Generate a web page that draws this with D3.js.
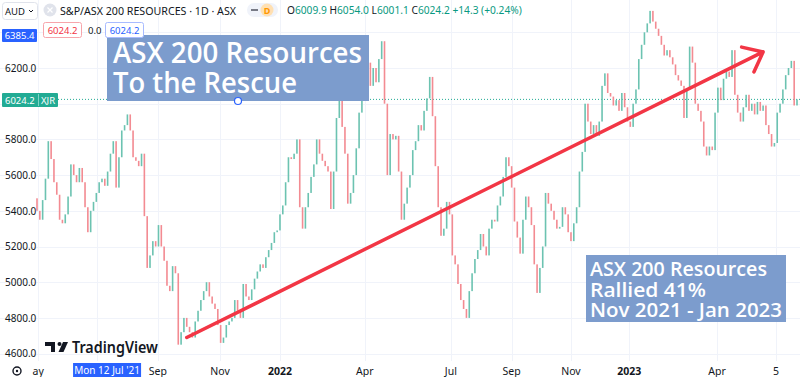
<!DOCTYPE html>
<html>
<head>
<meta charset="utf-8">
<script src="https://cdn.jsdelivr.net/npm/d3@7"></script>
<style>
  body { margin: 0; background: #fff; }
  svg { display: block; font-family: "Noto Sans", sans-serif; }
</style>
</head>
<body>
<div id="chart"></div>
<script>
// closes, one bar every ~2.8px (about two sessions)
var firstOpen = 5470;
var closes = [
  5400, 5350, 5460, 5580, 5790, 5690, 5560, 5490, 5350, 5330,
  5380, 5480, 5660, 5600, 5560, 5640, 5560, 5420, 5280, 5400,
  5450, 5500, 5560, 5580, 5540, 5620, 5720, 5790, 5530, 5700,
  5850, 5880, 5940, 5850, 5700, 5680, 5650, 5720, 5370, 5080,
  5150, 5230, 5200, 5320, 5200, 5120, 4980, 4950, 5090, 5050,
  4650, 4720, 4800, 4750, 4720, 4690, 4780, 4840, 4900, 4950,
  5000, 4920, 4880, 4850, 4760, 4660, 4690, 4760, 4780, 4800,
  4900, 4840, 4800, 4990, 4920, 4900, 4960, 5020, 5060, 5100,
  5080, 5140, 5180, 5220, 5280, 5290, 5380, 5430, 5560, 5700,
  5690, 5720, 5800, 5420, 5300, 5420, 5500, 5590, 5660, 5800,
  5720, 5680, 5650, 5620, 5410, 5620, 5920, 6040, 5870, 5720,
  5440, 5500, 5600, 5750, 5950, 6020, 6150, 6230, 6100, 6200,
  6120, 6250, 6350, 6000, 5600, 5830, 5800, 5820, 5620, 5350,
  5440, 5530, 5600, 5740, 5790, 5880, 5850, 5960, 6030, 6150,
  5930, 5650, 5420, 5260, 5300, 5450, 5380, 5150, 5100, 4990,
  4900, 4850, 4800, 4950, 5050, 5130, 5180, 5270, 5200, 5150,
  5300, 5350, 5340, 5430, 5480, 5590, 5700, 5650, 5530, 5340,
  5250, 5160, 5350, 5480, 5420, 5320, 5100, 4940, 5080, 5200,
  5500, 5440, 5400, 5350, 5300, 5310, 5420, 5380, 5280, 5230,
  5330, 5420, 5620, 5730, 6000, 5900, 5830, 5880, 5820, 5900,
  6100, 6170, 6060, 6040, 5990, 6020, 5960, 6060, 5980, 5900,
  5870, 6000, 6080, 6250, 6330, 6400, 6450, 6520, 6460, 6420,
  6380, 6330, 6270, 6300, 6260, 6220, 6160, 6130, 6100, 5920,
  6080, 6320, 6230, 6000, 5960, 5900, 5760, 5710, 5760, 5740,
  5950, 6090, 6020, 6140, 6180, 6150, 6300, 6050, 5950, 5900,
  5980, 6050, 5960, 6000, 5940, 6010, 5960, 5990, 5880, 5830,
  5760, 5780, 5950, 6000, 6080, 6160, 6200, 6240, 5990, 6024.2
];

var gridPrices = [4600, 4800, 5000, 5200, 5400, 5600, 5800, 6000, 6200, 6400];
// 6000 and 6400 sit under the XJR / crosshair labels, so no text for them
var labelPrices = [4600, 4800, 5000, 5200, 5400, 5600, 5800, 6200];

// time axis: bar index of each month tick
var gridIdx = [0.4, 21.2, 42.8, 64.8, 86, 116, 146.5, 168, 189, 209.6, 240.7, 261.6];
var timeLabels = ["ay", "Sep", "Nov", "2022", "Apr", "Jul", "Sep", "Nov", "2023", "Apr", "5"];
var timeLabelIdx = [0.4, 42.8, 64.8, 86, 116, 146.5, 168, 189, 209.6, 240.7, 261.6];
var boldLabels = ["2022", "2023"];

var lastPrice = 6024.2;
var crosshairPrice = 6385.4;
var crosshairIdx = 24.8;
var crosshairDate = "Mon 12 Jul '21";

// trend line, Nov 2021 low to Jan 2023
var trend = [{ i: 53, p: 4690 }, { i: 257, p: 6290 }];

var width = 800, height = 377, chartBottom = 361;

var svg = d3
  .select("#chart")
  .append("svg")
  .attr("width", width)
  .attr("height", height);

var x = d3.scaleLinear().domain([0, closes.length - 1]).range([37, 797]);
var y = d3.scaleLinear().domain([4600, 6200]).range([353.6, 68]);

// grid
svg
  .append("g")
  .selectAll("line")
  .data(gridPrices)
  .enter()
  .append("line")
  .attr("x1", 0)
  .attr("x2", width)
  .attr("y1", (d) => Math.round(y(d)) + 0.5)
  .attr("y2", (d) => Math.round(y(d)) + 0.5)
  .style("stroke", "#f0f3fa");

svg
  .append("g")
  .selectAll("line")
  .data(gridIdx)
  .enter()
  .append("line")
  .attr("x1", (d) => Math.round(x(d)) + 0.5)
  .attr("x2", (d) => Math.round(x(d)) + 0.5)
  .attr("y1", 0)
  .attr("y2", chartBottom)
  .style("stroke", "#f0f3fa");

// last price dotted line
svg
  .append("line")
  .attr("x1", 58)
  .attr("x2", width)
  .attr("y1", y(lastPrice))
  .attr("y2", y(lastPrice))
  .style("stroke", "#22ab94")
  .style("stroke-dasharray", "1,2");

// candles (open = previous close)
var bars = closes.map((c, i) => ({ i: i, o: i === 0 ? firstOpen : closes[i - 1], c: c }));
svg
  .append("g")
  .selectAll("rect")
  .data(bars)
  .enter()
  .append("rect")
  .attr("x", (d) => x(d.i) - 0.8)
  .attr("width", 1.6)
  .attr("y", (d) => y(Math.max(d.o, d.c)))
  .attr("height", (d) => Math.max(1, Math.abs(y(d.o) - y(d.c))))
  .style("fill", (d) => (d.c >= d.o ? "#6cc3b1" : "#f38b92"));

// price axis (drawn over the plot on the left)
var yAxis = svg
  .append("g")
  .call(d3.axisRight(y).tickValues(labelPrices).tickSize(0).tickPadding(5).tickFormat(d3.format(".1f")));
yAxis.select(".domain").remove();
yAxis.selectAll("text").style("font-size", "10px").style("fill", "#131722").style("font-family", "Noto Sans");

// time axis
svg
  .append("g")
  .selectAll("text")
  .data(timeLabels)
  .enter()
  .append("text")
  .attr("x", (d, i) => x(timeLabelIdx[i]))
  .attr("y", 375)
  .attr("text-anchor", "middle")
  .style("font-size", "10.5px")
  .style("font-weight", (d) => (boldLabels.includes(d) ? "700" : "400"))
  .style("fill", "#131722")
  .text((d) => d);

// crosshair date label
var cx = x(crosshairIdx);
svg.append("rect").attr("x", cx - 34).attr("y", 363).attr("width", 68).attr("height", 14).style("fill", "#2962ff");
svg
  .append("text")
  .attr("x", cx)
  .attr("y", 374)
  .attr("text-anchor", "middle")
  .style("font-size", "10px")
  .style("fill", "#fff")
  .text(crosshairDate);

// gear icon
svg.append("circle").attr("cx", 17).attr("cy", 371).attr("r", 4).style("fill", "none").style("stroke", "#131722").style("stroke-width", 1.4);
svg.append("circle").attr("cx", 17).attr("cy", 371).attr("r", 1.2).style("fill", "#131722");

// trend line with arrow head
var p0 = [x(trend[0].i), y(trend[0].p)],
  p1 = [x(trend[1].i), y(trend[1].p)];
var ang = Math.atan2(p1[1] - p0[1], p1[0] - p0[0]);
var armLen = 22, spread = 0.68;
var a1 = [p1[0] - armLen * Math.cos(ang - spread), p1[1] - armLen * Math.sin(ang - spread)];
var a2 = [p1[0] - armLen * Math.cos(ang + spread), p1[1] - armLen * Math.sin(ang + spread)];
svg
  .append("path")
  .attr("d", d3.line()([p0, p1]) + "M" + a1 + "L" + p1 + "L" + a2)
  .style("fill", "none")
  .style("stroke", "#f23645")
  .style("stroke-width", 3.5)
  .style("stroke-linecap", "round")
  .style("stroke-linejoin", "round");

// annotation boxes
svg.append("rect").attr("x", 107).attr("y", 35).attr("width", 262).attr("height", 66).style("fill", "#7c9ccd");
svg
  .append("text")
  .attr("x", 113)
  .attr("y", 63)
  .attr("textLength", 249)
  .attr("lengthAdjust", "spacingAndGlyphs")
  .style("font-family", "Open Sans")
  .style("font-weight", "600")
  .style("font-size", "29px")
  .style("fill", "#fff")
  .text("ASX 200 Resources");
svg
  .append("text")
  .attr("x", 113)
  .attr("y", 93)
  .attr("textLength", 184)
  .attr("lengthAdjust", "spacingAndGlyphs")
  .style("font-family", "Open Sans")
  .style("font-weight", "600")
  .style("font-size", "29px")
  .style("fill", "#fff")
  .text("To the Rescue");
svg.append("circle").attr("cx", 238).attr("cy", 101).attr("r", 3.5).style("fill", "#fff").style("stroke", "#2962ff").style("stroke-width", 1.2);

svg.append("rect").attr("x", 586).attr("y", 255).attr("width", 200).attr("height", 67).style("fill", "#7c9ccd");
var note = ["ASX 200 Resources", "Rallied 41%", "Nov 2021 - Jan 2023"];
var noteLen = [177, 116, 192];
svg
  .append("g")
  .selectAll("text")
  .data(note)
  .enter()
  .append("text")
  .attr("x", 590)
  .attr("y", (d, i) => 276 + i * 20.5)
  .attr("textLength", (d, i) => noteLen[i])
  .attr("lengthAdjust", "spacingAndGlyphs")
  .style("font-family", "Open Sans")
  .style("font-weight", "600")
  .style("font-size", "20px")
  .style("fill", "#fff")
  .text((d) => d);

// price labels on the left
svg.append("rect").attr("x", 2).attr("y", 29).attr("width", 35).attr("height", 13).attr("rx", 1).style("fill", "#2962ff");
svg.append("text").attr("x", 19.5).attr("y", 39).attr("text-anchor", "middle").style("font-size", "9.5px").style("fill", "#fff").text(crosshairPrice.toFixed(1));

svg.append("rect").attr("x", 2).attr("y", 93).attr("width", 56).attr("height", 14).attr("rx", 1).style("fill", "#22ab94");
svg.append("line").attr("x1", 38.5).attr("x2", 38.5).attr("y1", 94).attr("y2", 106).style("stroke", "#7fd3c4");
svg.append("text").attr("x", 5).attr("y", 103.5).style("font-size", "9.5px").style("fill", "#fff").text(lastPrice.toFixed(1));
svg.append("text").attr("x", 41).attr("y", 103.5).style("font-size", "9.5px").style("fill", "#fff").text("XJR");

// header
svg.append("rect").attr("x", 2.5).attr("y", 2.5).attr("width", 35).attr("height", 17).attr("rx", 3).style("fill", "#fff").style("stroke", "#e0e3eb");
svg.append("text").attr("x", 5).attr("y", 14.5).style("font-size", "9.5px").style("fill", "#131722").text("AUD");
svg.append("path").attr("d", "M29,10L31,12L33,10").style("fill", "none").style("stroke", "#131722").style("stroke-width", 1);

svg.append("circle").attr("cx", 50).attr("cy", 10).attr("r", 6.5).style("fill", "#e0e3eb");
svg.append("path").attr("d", "M47.5,7.5L52.5,12.5M52.5,7.5L47.5,12.5").style("stroke", "#fff").style("stroke-width", 1.2);
svg
  .append("text")
  .attr("x", 60)
  .attr("y", 14.5)
  .attr("textLength", 176)
  .attr("lengthAdjust", "spacingAndGlyphs")
  .style("font-size", "11.5px")
  .style("fill", "#131722")
  .text("S&P/ASX 200 RESOURCES · 1D · ASX");

svg.append("rect").attr("x", 247).attr("y", 3).attr("width", 31).attr("height", 14).attr("rx", 7).style("fill", "#f0f3fa");
svg.append("line").attr("x1", 251).attr("x2", 258).attr("y1", 10).attr("y2", 10).style("stroke", "#787b86").style("stroke-width", 2);
svg.append("circle").attr("cx", 267).attr("cy", 10).attr("r", 6.5).style("fill", "#ffe0b2");
svg.append("text").attr("x", 267).attr("y", 13.5).attr("text-anchor", "middle").style("font-size", "9px").style("font-weight", "700").style("fill", "#ff9800").text("D");

var ohlc = [
  ["O", "6009.9"],
  [" H", "6054.0"],
  [" L", "6001.1"],
  [" C", "6024.2"],
  [" ", "+14.3 (+0.24%)"]
];
var ohlcText = svg.append("text").attr("x", 287).attr("y", 14).style("font-size", "10.2px");
ohlc.forEach(function (d) {
  ohlcText.append("tspan").style("fill", "#131722").text(d[0]);
  ohlcText.append("tspan").style("fill", "#089981").text(d[1]);
});

// second header row: price boxes
svg.append("rect").attr("x", 43.5).attr("y", 22.5).attr("width", 38).attr("height", 15).attr("rx", 2).style("fill", "#fff").style("stroke", "#f7a5ab");
svg.append("text").attr("x", 62.5).attr("y", 33.5).attr("text-anchor", "middle").style("font-size", "9.5px").style("fill", "#f23645").text(lastPrice.toFixed(1));
svg.append("text").attr("x", 88).attr("y", 33.5).style("font-size", "9.5px").style("fill", "#131722").text("0.0");
svg.append("rect").attr("x", 105.5).attr("y", 22.5).attr("width", 38).attr("height", 15).attr("rx", 2).style("fill", "#fff").style("stroke", "#a8bbff");
svg.append("text").attr("x", 124.5).attr("y", 33.5).attr("text-anchor", "middle").style("font-size", "9.5px").style("fill", "#2962ff").text(lastPrice.toFixed(1));

// TradingView watermark
var logo = svg.append("g").style("fill", "#131722");
logo.append("rect").attr("x", 45).attr("y", 342).attr("width", 10).attr("height", 4);
logo.append("rect").attr("x", 51).attr("y", 342).attr("width", 4).attr("height", 10);
logo.append("circle").attr("cx", 59.5).attr("cy", 344).attr("r", 2);
logo.append("path").attr("d", "M63,342L68,342L63.5,352L58.5,352Z");
svg
  .append("text")
  .attr("x", 72)
  .attr("y", 353)
  .attr("textLength", 86)
  .attr("lengthAdjust", "spacingAndGlyphs")
  .style("font-size", "16px")
  .style("font-weight", "600")
  .style("fill", "#131722")
  .text("TradingView");
</script>
</body>
</html>
